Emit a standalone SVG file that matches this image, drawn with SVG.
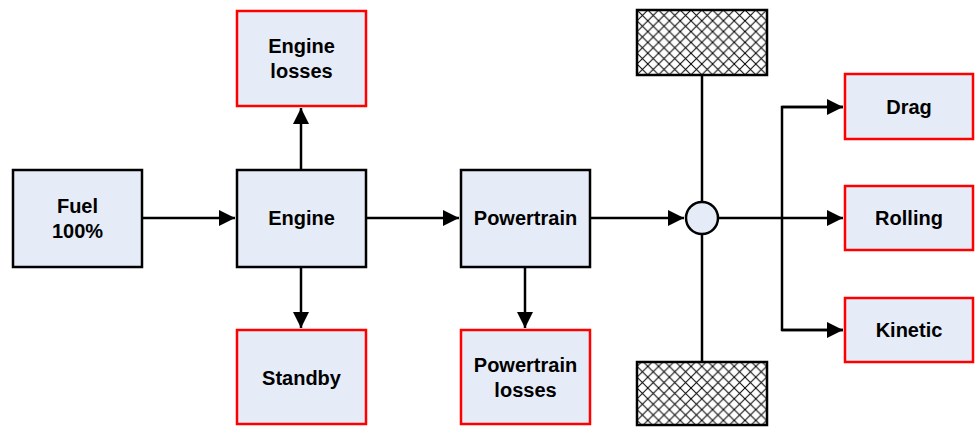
<svg xmlns="http://www.w3.org/2000/svg" width="976" height="427" viewBox="0 0 976 427">
<style>
.box{fill:#e6ecf7;stroke:#000;stroke-width:2.5}
.loss{fill:#e6ecf7;stroke:#ff0000;stroke-width:2.5}
.t{font-family:"Liberation Sans",Arial,sans-serif;font-weight:bold;font-size:20px;fill:#000;text-anchor:middle}
.c{stroke:#000;stroke-width:2.5;fill:none}
</style>
<defs>
<marker id="ah" viewBox="0 0 10 10" refX="10" refY="5" markerWidth="6.5" markerHeight="6.5" markerUnits="strokeWidth" orient="auto">
<path d="M0,0 L10,5 L0,10 z" fill="#000"/>
</marker>
<pattern id="hatch" width="10.8" height="10.8" patternUnits="userSpaceOnUse" x="637" y="10">
<rect width="10.8" height="10.8" fill="#fff"/>
<path d="M0,0 L10.8,10.8 M10.8,0 L0,10.8" stroke="#000" stroke-width="1"/>
</pattern>
</defs>
<g id="connectors">
<line class="c" x1="142" y1="218" x2="235" y2="218" marker-end="url(#ah)"/>
<line class="c" x1="366" y1="218" x2="459" y2="218" marker-end="url(#ah)"/>
<line class="c" x1="590" y1="218" x2="684" y2="218" marker-end="url(#ah)"/>
<line class="c" x1="301" y1="170" x2="301" y2="108" marker-end="url(#ah)"/>
<line class="c" x1="301" y1="267" x2="301" y2="328" marker-end="url(#ah)"/>
<line class="c" x1="525" y1="267" x2="525" y2="328" marker-end="url(#ah)"/>
<line class="c" x1="702" y1="75" x2="702" y2="202"/>
<line class="c" x1="702" y1="234" x2="702" y2="362"/>
<line class="c" x1="718" y1="218" x2="843" y2="218" marker-end="url(#ah)"/>
<polyline class="c" points="843,107 782,107 782,330 843,330"/>
<line class="c" x1="782" y1="107" x2="843" y2="107" marker-end="url(#ah)"/>
<line class="c" x1="782" y1="330" x2="843" y2="330" marker-end="url(#ah)"/>
</g>
<g id="fuel"><rect class="box" x="13" y="170" width="129" height="97"/><text class="t" x="77.5" y="213">Fuel</text><text class="t" x="77.5" y="238">100%</text></g>
<g id="engine"><rect class="box" x="237" y="170" width="129" height="97"/><text class="t" x="301.5" y="225">Engine</text></g>
<g id="engine-losses"><rect class="loss" x="237" y="11" width="129" height="95"/><text class="t" x="301.5" y="53">Engine</text><text class="t" x="301.5" y="78">losses</text></g>
<g id="standby"><rect class="loss" x="237" y="330" width="129" height="94"/><text class="t" x="301.5" y="385">Standby</text></g>
<g id="powertrain"><rect class="box" x="461" y="170" width="129" height="97"/><text class="t" x="525.5" y="225">Powertrain</text></g>
<g id="powertrain-losses"><rect class="loss" x="461" y="330" width="129" height="94"/><text class="t" x="525.5" y="372">Powertrain</text><text class="t" x="525.5" y="397">losses</text></g>
<g id="wheel-top"><rect x="637" y="10" width="130" height="65" fill="url(#hatch)" stroke="#000" stroke-width="2.5"/></g>
<g id="wheel-bottom"><rect x="637" y="362" width="130" height="63" fill="url(#hatch)" stroke="#000" stroke-width="2.5"/></g>
<g id="hub"><circle cx="702" cy="218" r="16" fill="#e6ecf7" stroke="#000" stroke-width="2.5"/></g>
<g id="drag"><rect class="loss" x="845" y="74" width="128" height="65"/><text class="t" x="909" y="114">Drag</text></g>
<g id="rolling"><rect class="loss" x="845" y="186" width="128" height="64"/><text class="t" x="909" y="225">Rolling</text></g>
<g id="kinetic"><rect class="loss" x="845" y="298" width="128" height="64"/><text class="t" x="909" y="337">Kinetic</text></g>
</svg>
